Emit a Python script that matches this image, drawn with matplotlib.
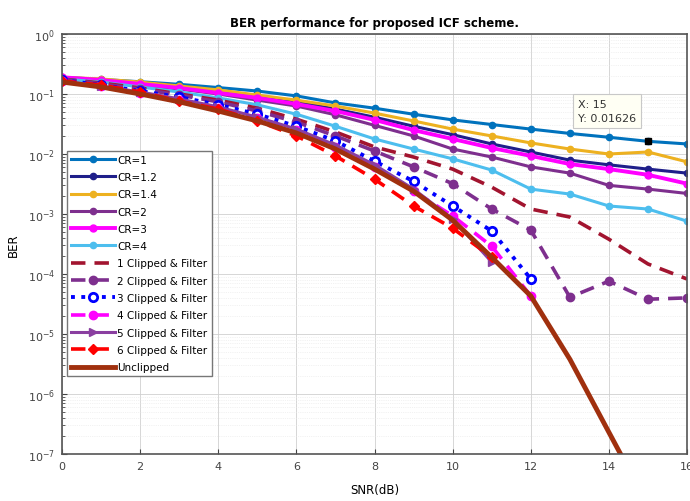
import numpy as np
import matplotlib.pyplot as plt
from matplotlib.ticker import LogLocator, NullFormatter

snr = np.arange(0, 17)

cr1 = [0.19, 0.175, 0.16, 0.145, 0.128, 0.112, 0.093, 0.071, 0.058, 0.046,
       0.037, 0.031, 0.026, 0.022, 0.019, 0.01626, 0.0147]
cr12 = [0.185, 0.17, 0.155, 0.136, 0.112, 0.093, 0.074, 0.056, 0.041, 0.029,
        0.021, 0.0147, 0.0108, 0.0079, 0.0066, 0.0056, 0.0048]
cr14 = [0.19, 0.178, 0.158, 0.136, 0.117, 0.096, 0.079, 0.063, 0.048, 0.0355,
        0.026, 0.020, 0.0153, 0.0121, 0.010, 0.0108, 0.0074]
cr2 = [0.185, 0.165, 0.141, 0.121, 0.1, 0.079, 0.063, 0.045, 0.030, 0.020,
       0.0121, 0.0089, 0.0061, 0.0048, 0.003, 0.0026, 0.0022]
cr3 = [0.19, 0.171, 0.147, 0.126, 0.104, 0.086, 0.068, 0.052, 0.037, 0.025,
       0.0178, 0.0126, 0.0093, 0.0068, 0.0056, 0.0045, 0.0032]
cr4 = [0.178, 0.158, 0.131, 0.108, 0.086, 0.066, 0.046, 0.029, 0.0178, 0.0121,
       0.0083, 0.0054, 0.0026, 0.00215, 0.00136, 0.00121, 0.00076]
cf1 = [0.178, 0.152, 0.126, 0.1, 0.079, 0.058, 0.038, 0.0233, 0.0131, 0.0089,
       0.0056, 0.0028, 0.00121, 0.00089, 0.00038, 0.000147, 0.0000826]
cf2 = [0.178, 0.147, 0.121, 0.096, 0.074, 0.052, 0.034, 0.02, 0.0112, 0.0061,
       0.0032, 0.00121, 0.00054, 4.1e-5, 7.6e-5, 3.8e-5, 4.0e-5]
cf3 = [0.171, 0.141, 0.112, 0.089, 0.066, 0.046, 0.029, 0.0165, 0.0076, 0.0035,
       0.00136, 0.00052, 8.3e-5]
cf4 = [0.165, 0.136, 0.104, 0.079, 0.058, 0.04, 0.025, 0.0131, 0.0061, 0.0024,
       0.00093, 0.00029, 4.3e-5]
cf5 = [0.165, 0.136, 0.108, 0.083, 0.061, 0.041, 0.026, 0.0141, 0.0066, 0.0026,
       0.00083, 0.000158]
cf6 = [0.165, 0.141, 0.108, 0.076, 0.056, 0.0355, 0.02, 0.0093, 0.0038, 0.00136,
       0.00058, 0.00019]
unclipped = [0.158, 0.131, 0.1, 0.074, 0.052, 0.0355, 0.0224, 0.0121, 0.0056,
             0.0024, 0.00079, 0.00019, 4.3e-5, 3.8e-6, 2.3e-7, 1.4e-8]

fig = plt.figure(figsize=(6.9, 5.02), dpi=100)
ax = fig.add_axes([0.0899, 0.0936, 0.9058, 0.8367])

lw = 2.2
ax.semilogy(snr, cr1, '-o', color='#0072BD', lw=lw, ms=4.5, label='CR=1')
ax.semilogy(snr, cr12, '-o', color='#1F1F8A', lw=lw, ms=4.5, label='CR=1.2')
ax.semilogy(snr, cr14, '-o', color='#EDB120', lw=lw, ms=4.5, label='CR=1.4')
ax.semilogy(snr, cr2, '-o', color='#7E2F8E', lw=lw, ms=4.5, label='CR=2')
ax.semilogy(snr, cr3, '-o', color='#FF00FF', lw=lw + 0.6, ms=5, label='CR=3')
ax.semilogy(snr, cr4, '-o', color='#4DBEEE', lw=lw, ms=4.5, label='CR=4')
ax.semilogy(snr, cf1, '--', color='#A2142F', lw=lw + 0.4, dashes=(4, 2.5),
            label='1 Clipped & Filter')
ax.semilogy(snr, cf2, '--o', color='#7E2F8E', lw=lw + 0.4, ms=6, dashes=(4, 2.5),
            label='2 Clipped & Filter')
ax.semilogy(snr[:len(cf3)], cf3, ':o', color='#0000FF', lw=lw + 0.6, ms=6,
            mfc='white', mew=2, label='3 Clipped & Filter')
ax.semilogy(snr[:len(cf4)], cf4, '--o', color='#FF00FF', lw=lw + 0.4, ms=6,
            dashes=(4, 2.5), label='4 Clipped & Filter')
ax.semilogy(snr[:len(cf5)], cf5, '->', color='#8A3FA0', lw=lw, ms=6,
            label='5 Clipped & Filter')
ax.semilogy(snr[:len(cf6)], cf6, '--D', color='#FF0000', lw=lw + 0.4, ms=5.5,
            dashes=(4, 2.5), label='6 Clipped & Filter')
ax.semilogy(snr[:len(unclipped)], unclipped, '-', color='#A0300E', lw=3.5,
            label='Unclipped')

# data tip
ax.plot([15], [0.01626], 's', color='black', ms=5, zorder=10)
ax.annotate('X: 15\nY: 0.01626', xy=(15, 0.01626), xytext=(13.2, 0.052),
            fontsize=8, color='#333333', va='center', ha='left', linespacing=1.5,
            bbox=dict(boxstyle='square,pad=0.45', fc='#FFFFF4', ec='#C8C8C8', lw=0.8),
            zorder=11)

ax.set_xlim(0, 16)
ax.set_ylim(1e-7, 1)
ax.set_xticks(np.arange(0, 17, 2))
ax.yaxis.set_major_locator(LogLocator(base=10, numticks=10))
ax.yaxis.set_minor_locator(LogLocator(base=10, subs=np.arange(2, 10), numticks=10))
ax.yaxis.set_minor_formatter(NullFormatter())
ax.grid(True, which='major', color='#D0D0D0', lw=0.6)
ax.grid(True, which='minor', axis='y', color='#E6E6E6', lw=0.5, ls=':')
ax.tick_params(labelsize=8, colors='#444444', direction='in', which='both', pad=5)
for s in ax.spines.values():
    s.set_color('#555555')
    s.set_linewidth(1.2)

ax.set_title('BER performance for proposed ICF scheme.', fontsize=8.5,
             fontweight='bold', pad=6)
ax.set_xlabel('SNR(dB)', fontsize=8.5, labelpad=9)
ax.set_ylabel('BER', fontsize=8.5, labelpad=6)

leg = ax.legend(loc='upper left', bbox_to_anchor=(0.0, 0.735), fontsize=7.5,
                handlelength=4.2, handletextpad=0.2, labelspacing=0.7,
                borderpad=0.4, fancybox=False, framealpha=1, edgecolor='#777777')
leg.get_frame().set_linewidth(1.0)

fig.savefig('out.png', dpi=100)
